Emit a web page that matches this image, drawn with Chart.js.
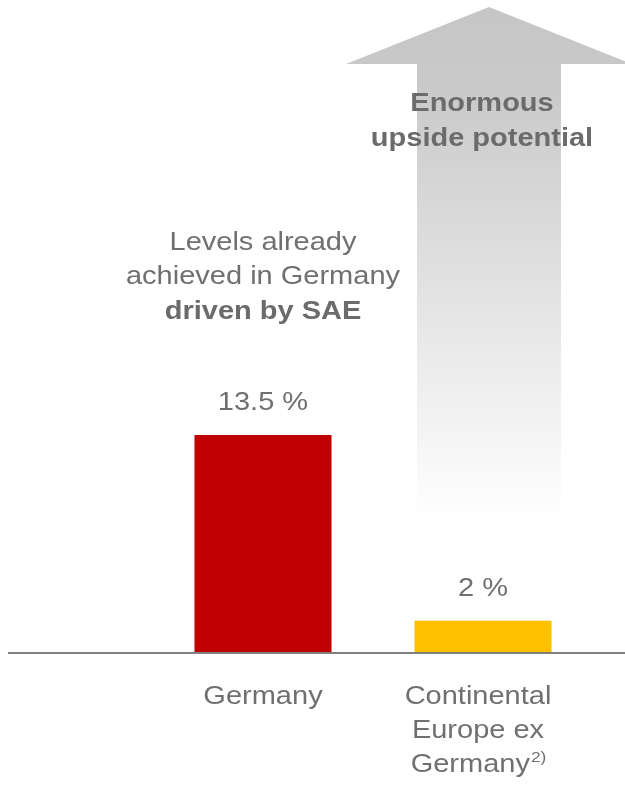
<!DOCTYPE html>
<html>
<head>
<meta charset="utf-8">
<title>Market share comparison</title>
<script src="https://cdn.jsdelivr.net/npm/chart.js@4/dist/chart.umd.min.js"></script>
<style>
  html, body { margin: 0; padding: 0; background: #ffffff; }
  #wrap { width: 625px; height: 785px; position: relative; }
</style>
</head>
<body>
<div id="wrap"><canvas id="chart" width="625" height="785"></canvas></div>
<script>
// Categories and values
const categories = ['Germany', 'Continental Europe ex Germany'];
const categoryLines = [['Germany'], ['Continental', 'Europe ex', 'Germany']];
const categoryNotes = ['', '2)'];
const shareValues = [13.5, 2];
const valueLabels = ['13.5 %', '2 %'];
const barColors = ['#C00000', '#FFC000'];
const germanyNote = ['Levels already', 'achieved in Germany', 'driven by SAE'];
const arrowNote = ['Enormous', 'upside potential'];

const TEXT = '#707070';
const FONT = '"Liberation Sans", Arial, sans-serif';
const SX = 1.16; // horizontal text stretch of the slide artwork
const LABEL_SHIFT = [0, -5]; // nudge of each category's text block

function stretchedText(ctx, str, x, y, size, bold, color, align) {
  ctx.save();
  ctx.font = (bold ? 'bold ' : '') + size + 'px ' + FONT;
  ctx.fillStyle = color;
  ctx.textBaseline = 'middle';
  ctx.textAlign = align || 'center';
  ctx.translate(x, y);
  ctx.scale(SX, 1);
  ctx.fillText(str, 0, 0);
  ctx.restore();
}

function textWidth(ctx, str, size, bold) {
  ctx.save();
  ctx.font = (bold ? 'bold ' : '') + size + 'px ' + FONT;
  const w = ctx.measureText(str).width * SX;
  ctx.restore();
  return w;
}

// Big faded arrow behind the second bar
const arrowPlugin = {
  id: 'upsideArrow',
  beforeDatasetsDraw(chart) {
    const ctx = chart.ctx;
    const x = chart.scales.x.getPixelForValue(1) + 6;
    const tipY = 7, headY = 64, tailY = 522;
    const halfHead = 143, halfShaft = 72;
    const g = ctx.createLinearGradient(0, tipY, 0, tailY);
    g.addColorStop(0, '#c6c6c6');
    g.addColorStop(0.15, '#c9c9c9');
    g.addColorStop(1, '#ffffff');
    ctx.save();
    ctx.fillStyle = g;
    ctx.beginPath();
    ctx.moveTo(x, tipY);
    ctx.lineTo(x + halfHead, headY);
    ctx.lineTo(x + halfShaft, headY);
    ctx.lineTo(x + halfShaft, tailY);
    ctx.lineTo(x - halfShaft, tailY);
    ctx.lineTo(x - halfShaft, headY);
    ctx.lineTo(x - halfHead, headY);
    ctx.closePath();
    ctx.fill();
    ctx.restore();
    stretchedText(ctx, arrowNote[0], x - 7, 104, 25, true, '#6b6b6b');
    stretchedText(ctx, arrowNote[1], x - 7, 139, 25, true, '#6b6b6b');
  }
};

// Baseline, value labels, category labels and the Germany annotation
const labelPlugin = {
  id: 'slideLabels',
  afterDatasetsDraw(chart) {
    const ctx = chart.ctx;
    const xs = chart.scales.x, ys = chart.scales.y;
    const y0 = ys.getPixelForValue(0);

    ctx.save();
    ctx.strokeStyle = '#808080';
    ctx.lineWidth = 2;
    ctx.beginPath();
    ctx.moveTo(8, y0);
    ctx.lineTo(625, y0);
    ctx.stroke();
    ctx.restore();

    shareValues.forEach((v, i) => {
      const cx = xs.getPixelForValue(i);
      stretchedText(ctx, valueLabels[i], cx, ys.getPixelForValue(v) - 32, 25, false, TEXT);
      const lx = cx + LABEL_SHIFT[i];
      const lines = categoryLines[i];
      lines.forEach((ln, j) => {
        const ly = y0 + 44 + j * 34;
        if (j === lines.length - 1 && categoryNotes[i]) {
          const w1 = textWidth(ctx, ln, 25, false);
          const w2 = textWidth(ctx, categoryNotes[i], 15, false);
          const left = lx - (w1 + w2) / 2;
          stretchedText(ctx, ln, left, ly, 25, false, TEXT, 'left');
          stretchedText(ctx, categoryNotes[i], left + w1 + 1, ly - 7, 15, false, TEXT, 'left');
        } else {
          stretchedText(ctx, ln, lx, ly, 25, false, TEXT);
        }
      });
    });

    const gx = xs.getPixelForValue(0);
    stretchedText(ctx, germanyNote[0], gx, 243, 25, false, TEXT);
    stretchedText(ctx, germanyNote[1], gx, 277, 25, false, TEXT);
    stretchedText(ctx, germanyNote[2], gx, 312, 25, true, '#6b6b6b');
  }
};

new Chart(document.getElementById('chart'), {
  type: 'bar',
  data: {
    labels: categories,
    datasets: [{
      data: shareValues,
      backgroundColor: barColors,
      borderWidth: 0,
      categoryPercentage: 1,
      barPercentage: 0.623
    }]
  },
  options: {
    responsive: false,
    animation: false,
    layout: { padding: { left: 153, right: 32, top: 7, bottom: 132 } },
    plugins: { legend: { display: false }, tooltip: { enabled: false } },
    scales: {
      x: { display: false },
      y: { display: false, min: 0, max: 40 }
    }
  },
  plugins: [arrowPlugin, labelPlugin]
});
</script>
</body>
</html>
